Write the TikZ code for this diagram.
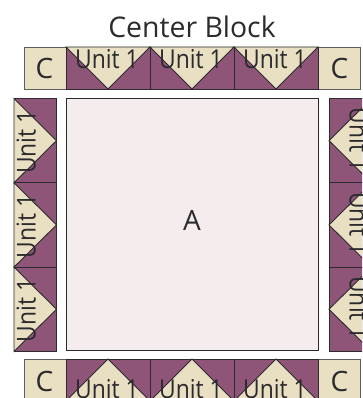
\documentclass[tikz,border=0pt]{standalone}
\usepackage{fontspec}
\setmainfont{Open Sans}
\definecolor{plum}{HTML}{8E5579}
\definecolor{tan}{HTML}{E9DFC2}
\definecolor{blush}{HTML}{F5ECEE}
\definecolor{ink}{HTML}{2B2A2C}
\definecolor{edgegrey}{HTML}{5E5C5C}
\newcommand{\unittext}{\scalebox{.88}[1]{Unit 1}}
\tikzset{
  x=1pt,y=-1pt,
  patch/.style={draw=ink,line width=0.9pt,line join=miter},
  plumfill/.style={patch,fill=plum},
  tanfill/.style={patch,fill=tan},
  cbox/.style={draw=edgegrey,line width=0.9pt,fill=tan},
  lab/.style={inner sep=0pt,text=ink,font=\fontsize{28}{28}\selectfont,anchor=base},
  unitlab/.style={inner sep=0pt,text=ink,font=\fontsize{26}{26}\selectfont,anchor=base},
  title/.style={lab,font=\fontsize{28.4}{28.4}\selectfont},
}
\newcommand{\topunit}[2]{%
  \draw[plumfill] (#1,#2) rectangle ++(84,42);
  \draw[tanfill] (#1,#2) -- ++(84,0) -- ++(-42,42) -- cycle;
  \node[unitlab] (ut#1) at (#1+41,#2+21.5) {\unittext};}
\newcommand{\botunit}[2]{%
  \draw[plumfill] (#1,#2) rectangle ++(84,42);
  \draw[tanfill] (#1,#2+42) -- ++(84,0) -- ++(-42,-42) -- cycle;
  \node[unitlab] (ub#1) at (#1+41,#2+39.5) {\unittext};}
\newcommand{\leftunit}[2]{%
  \draw[plumfill] (#1,#2) rectangle ++(42.5,84.3);
  \draw[tanfill] (#1,#2) -- ++(0,84.3) -- ++(42.5,-42.15) -- cycle;
  \node[unitlab,rotate=90] (ul#2) at (#1+21.5,#2+43.5) {\unittext};}
\newcommand{\rightunit}[2]{%
  \draw[plumfill] (#1,#2) rectangle ++(42.5,84.3);
  \draw[tanfill] (#1+42.5,#2) -- ++(0,84.3) -- ++(-42.5,-42.15) -- cycle;
  \node[unitlab,rotate=-90] (ur#2) at (#1+20.5,#2+41) {\unittext};}
\begin{document}
\begin{tikzpicture}
\useasboundingbox (0,0) rectangle (362,398);
\clip (0,0) rectangle (362,398);
\node[title] (heading) at (192,37.5) {Center Block};
\draw[cbox] (24,47) rectangle (66,89);
\node[lab] (c1) at (44.5,79) {C};
\draw[cbox] (318,47) rectangle (360,89);
\node[lab] (c2) at (339.5,79) {C};
\topunit{66}{47}\topunit{150}{47}\topunit{234}{47}
\draw[draw=ink,line width=0.9pt,fill=blush] (66,98.5) rectangle (318,350.7);
\node[lab] (a) at (192,230) {A};
\leftunit{14}{98.5}\leftunit{14}{182.8}\leftunit{14}{267.1}
\rightunit{329}{98.5}\rightunit{329}{182.8}\rightunit{329}{267.1}
\draw[cbox] (24,359) rectangle (66,401);
\node[lab] (c3) at (44.5,391) {C};
\draw[cbox] (318,359) rectangle (360,401);
\node[lab] (c4) at (339.5,391) {C};
\botunit{66}{359}\botunit{150}{359}\botunit{234}{359}
\end{tikzpicture}
\end{document}
